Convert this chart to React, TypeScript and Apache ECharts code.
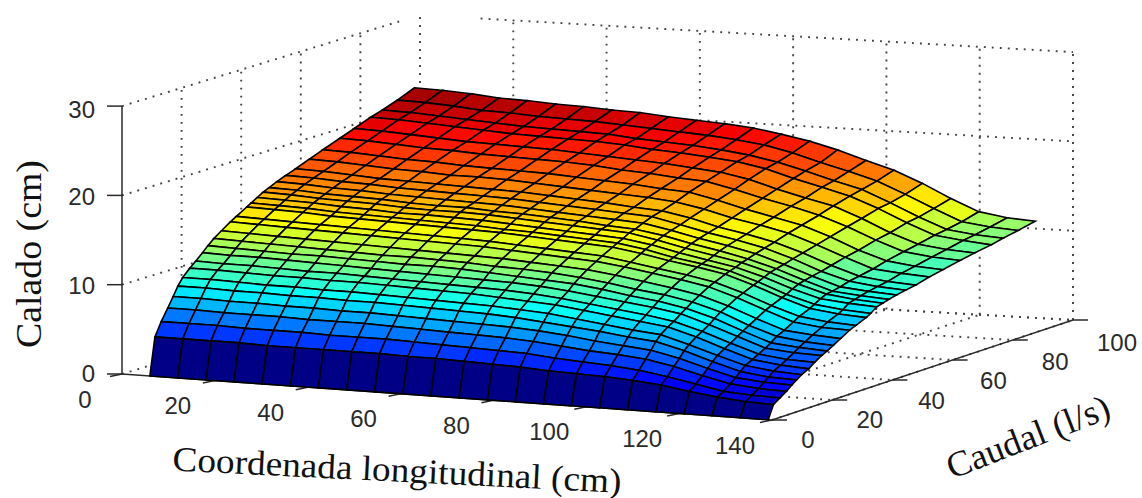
import React, { useEffect, useRef } from "react";
import * as echarts from "echarts";

const W = 1142;
const H = 498;

const xs = [6, 12, 18.1, 24.1, 30.2, 36.3, 42.3, 48.4, 54.4, 60.5, 66.5, 72.6, 78.7, 84.7, 90.8, 96.8, 102.9, 108.9, 115, 121.1, 127.1, 133.2, 139.2];
const qs = [0, 1.7, 3.8, 6, 7.8, 9.4, 11, 13.4, 15.4, 17.7, 19.5, 21.5, 24, 27, 29, 32.5, 34, 36, 38, 40, 42.6, 45.6, 48.9, 53.5, 58, 63.7, 68.5, 74, 78, 83, 88.7];
const depth = [
  [0, 0, 0, 0, 0, 0, 0, 0, 0, 0, 0, 0, 0, 0, 0, 0, 0, 0, 0, 0, 0, 0, 0],
  [4.2, 4.2, 4.2, 4.2, 4.1, 4.1, 4.1, 4.1, 4.1, 4.0, 4.0, 3.9, 3.8, 3.7, 3.5, 3.4, 3.3, 3.1, 2.8, 2.3, 1.9, 1.6, 1.5],
  [5.7, 5.7, 5.7, 5.6, 5.6, 5.6, 5.5, 5.5, 5.5, 5.4, 5.3, 5.2, 5.1, 5.0, 4.7, 4.5, 4.3, 4.0, 3.5, 2.9, 2.3, 2.1, 2.0],
  [7.0, 7.0, 6.9, 6.9, 6.9, 6.8, 6.8, 6.8, 6.7, 6.6, 6.5, 6.4, 6.3, 6.1, 5.8, 5.5, 5.3, 5.0, 4.4, 3.6, 2.9, 2.6, 2.5],
  [8.1, 8.1, 8.0, 8.0, 7.9, 7.9, 7.8, 7.8, 7.7, 7.6, 7.5, 7.4, 7.3, 7.1, 6.8, 6.4, 6.1, 5.8, 5.1, 4.2, 3.4, 3.1, 3.0],
  [9.1, 9.1, 9.0, 9.0, 8.9, 8.9, 8.8, 8.8, 8.7, 8.6, 8.5, 8.4, 8.2, 7.9, 7.6, 7.3, 6.9, 6.6, 5.8, 4.8, 3.9, 3.5, 3.4],
  [9.9, 9.9, 9.8, 9.7, 9.7, 9.6, 9.6, 9.5, 9.4, 9.3, 9.2, 9.1, 8.9, 8.7, 8.3, 7.9, 7.5, 7.2, 6.3, 5.3, 4.4, 4.0, 3.8],
  [10.7, 10.7, 10.6, 10.5, 10.5, 10.4, 10.4, 10.3, 10.2, 10.1, 10.0, 9.8, 9.6, 9.4, 9.0, 8.6, 8.2, 7.8, 6.9, 5.8, 4.8, 4.4, 4.2],
  [11.3, 11.2, 11.2, 11.1, 11.0, 11.0, 10.9, 10.8, 10.7, 10.6, 10.5, 10.4, 10.2, 9.9, 9.5, 9.1, 8.7, 8.2, 7.3, 6.2, 5.2, 4.8, 4.7],
  [12.0, 11.9, 11.9, 11.8, 11.7, 11.6, 11.5, 11.4, 11.3, 11.2, 11.1, 11.0, 10.8, 10.5, 10.1, 9.7, 9.3, 8.8, 7.8, 6.7, 5.6, 5.3, 5.2],
  [12.6, 12.5, 12.4, 12.3, 12.3, 12.2, 12.1, 12.0, 12.0, 11.9, 11.7, 11.5, 11.3, 11.1, 10.7, 10.2, 9.8, 9.2, 8.3, 7.1, 6.0, 5.7, 5.5],
  [13.2, 13.1, 13.0, 12.9, 12.8, 12.7, 12.6, 12.6, 12.5, 12.4, 12.2, 12.1, 11.9, 11.6, 11.2, 10.7, 10.3, 9.7, 8.8, 7.5, 6.5, 6.1, 5.9],
  [13.8, 13.7, 13.6, 13.5, 13.4, 13.3, 13.2, 13.1, 13.0, 12.9, 12.8, 12.6, 12.4, 12.2, 11.8, 11.3, 10.8, 10.2, 9.2, 8.0, 6.9, 6.6, 6.4],
  [14.5, 14.4, 14.3, 14.2, 14.1, 14.0, 13.9, 13.8, 13.7, 13.6, 13.4, 13.2, 13.0, 12.8, 12.4, 11.9, 11.4, 10.8, 9.8, 8.6, 7.5, 7.1, 7.0],
  [14.9, 14.8, 14.7, 14.6, 14.5, 14.4, 14.3, 14.2, 14.1, 14.0, 13.8, 13.6, 13.4, 13.2, 12.7, 12.2, 11.7, 11.1, 10.1, 8.9, 7.9, 7.5, 7.3],
  [15.6, 15.5, 15.4, 15.2, 15.1, 15.0, 14.9, 14.8, 14.7, 14.6, 14.4, 14.2, 14.0, 13.8, 13.3, 12.7, 12.2, 11.6, 10.6, 9.4, 8.4, 8.0, 7.8],
  [15.9, 15.8, 15.7, 15.5, 15.4, 15.3, 15.2, 15.1, 15.0, 14.8, 14.7, 14.5, 14.3, 14.1, 13.6, 12.9, 12.4, 11.8, 10.8, 9.6, 8.7, 8.3, 8.1],
  [16.3, 16.2, 16.1, 15.9, 15.8, 15.6, 15.6, 15.5, 15.4, 15.2, 15.0, 14.8, 14.6, 14.4, 13.9, 13.2, 12.6, 12.0, 11.1, 10.0, 9.1, 8.8, 8.6],
  [16.7, 16.6, 16.4, 16.3, 16.2, 16.0, 15.9, 15.9, 15.8, 15.6, 15.4, 15.2, 15.0, 14.8, 14.2, 13.5, 12.9, 12.3, 11.4, 10.3, 9.4, 9.0, 8.8],
  [17.0, 16.9, 16.7, 16.6, 16.5, 16.3, 16.2, 16.2, 16.0, 15.9, 15.7, 15.5, 15.2, 15.0, 14.5, 13.8, 13.2, 12.5, 11.6, 10.5, 9.5, 9.2, 9.0],
  [17.4, 17.3, 17.1, 17.0, 16.8, 16.7, 16.6, 16.5, 16.4, 16.2, 16.0, 15.8, 15.6, 15.4, 14.8, 14.1, 13.5, 12.8, 11.8, 10.7, 9.7, 9.4, 9.2],
  [17.8, 17.7, 17.5, 17.4, 17.2, 17.1, 17.0, 16.9, 16.8, 16.6, 16.4, 16.2, 16.0, 15.8, 15.1, 14.4, 13.8, 13.1, 12.1, 10.9, 10.0, 9.6, 9.4],
  [18.2, 18.1, 17.9, 17.7, 17.6, 17.5, 17.4, 17.3, 17.2, 17.0, 16.8, 16.6, 16.3, 16.1, 15.5, 14.7, 14.1, 13.4, 12.4, 11.2, 10.2, 9.8, 9.6],
  [18.8, 18.7, 18.5, 18.3, 18.2, 18.0, 18.0, 17.9, 17.7, 17.5, 17.3, 17.1, 16.9, 16.6, 16.0, 15.2, 14.6, 13.9, 12.8, 11.6, 10.5, 10.2, 10.0],
  [19.4, 19.3, 19.1, 18.9, 18.8, 18.6, 18.5, 18.4, 18.3, 18.1, 17.9, 17.7, 17.4, 17.2, 16.5, 15.7, 15.0, 14.3, 13.2, 11.9, 10.9, 10.5, 10.3],
  [20.1, 20.0, 19.8, 19.6, 19.5, 19.3, 19.2, 19.1, 19.0, 18.8, 18.5, 18.3, 18.0, 17.8, 17.1, 16.3, 15.6, 14.8, 13.7, 12.4, 11.3, 10.9, 10.7],
  [20.7, 20.6, 20.4, 20.2, 20.0, 19.9, 19.8, 19.7, 19.5, 19.3, 19.1, 18.9, 18.6, 18.3, 17.7, 16.8, 16.0, 15.3, 14.1, 12.7, 11.6, 11.2, 11.0],
  [21.4, 21.3, 21.1, 20.9, 20.7, 20.5, 20.4, 20.3, 20.2, 20.0, 19.7, 19.5, 19.2, 18.9, 18.3, 17.4, 16.6, 15.8, 14.6, 13.2, 12.0, 11.6, 11.3],
  [21.8, 21.7, 21.5, 21.3, 21.1, 20.9, 20.8, 20.7, 20.6, 20.3, 20.1, 19.9, 19.6, 19.2, 18.6, 17.8, 16.9, 16.1, 14.8, 13.4, 12.2, 11.8, 11.6],
  [22.4, 22.3, 22.1, 21.8, 21.7, 21.5, 21.4, 21.3, 21.1, 20.9, 20.7, 20.5, 20.2, 19.8, 19.1, 18.2, 17.4, 16.5, 15.2, 13.8, 12.5, 12.1, 11.9],
  [23.2, 23.1, 22.9, 22.6, 22.5, 22.3, 22.2, 22.0, 21.9, 21.6, 21.4, 21.2, 20.9, 20.4, 19.8, 19.0, 18.0, 17.1, 15.8, 14.3, 13.0, 12.5, 12.3],
];

const xTicks = [0, 20, 40, 60, 80, 100, 120, 140];
const qTicks = [0, 20, 40, 60, 80, 100];
const zTicks = [0, 10, 20, 30];

const X_MAX = 140;
const Q_MAX = 100;
const Z_MAX = 30;
const C_MAX = 23.2;

// projection of (x, q, z) to the plot's data space
function project(x: number, q: number, z: number): [number, number] {
  const u = x / X_MAX;
  const v = q / Q_MAX;
  return [
    (1 - v) * (122 + 650 * u) + v * (420 + 653 * u),
    (1 - v) * (374 + 46 * u) + v * (283 + 37 * u) - z * 8.93,
  ];
}

function jet(z: number): string {
  const level = Math.min(63, Math.floor((z / C_MAX) * 64));
  const t = (level + 0.5) / 64;
  const c = (d: number) => Math.round(255 * Math.max(0, Math.min(1, 1.5 - Math.abs(4 * t - d))));
  return `rgb(${c(3)},${c(2)},${c(1)})`;
}

type Seg = { a: number[]; b: number[]; dotted: boolean };

function buildGrid(): Seg[] {
  const s: Seg[] = [];
  const add = (a: number[], b: number[]) => s.push({ a, b, dotted: true });
  for (const z of zTicks) {
    // the top edges break near the far corner, as in the picture
    add([0, 0, z], [0, z === 30 ? 93 : Q_MAX, z]);
    add([z === 30 ? 13 : 0, Q_MAX, z], [X_MAX, Q_MAX, z]);
  }
  for (const q of qTicks.slice(1)) {
    add([0, q, 0], [0, q, Z_MAX]);
    add([0, q, 0], [X_MAX, q, 0]);
  }
  for (const x of xTicks.slice(1)) {
    add([x, Q_MAX, 0], [x, Q_MAX, Z_MAX]);
    add([x, 0, 0], [x, Q_MAX, 0]);
  }
  return s;
}

function buildAxes(): Seg[] {
  const s: Seg[] = [];
  const add = (a: number[], b: number[]) => s.push({ a, b, dotted: false });
  add([0, 0, 0], [0, 0, Z_MAX]);
  add([0, 0, 0], [X_MAX, 0, 0]);
  add([X_MAX, 0, 0], [X_MAX, Q_MAX, 0]);
  return s;
}

export default function App() {
  const ref = useRef<HTMLDivElement>(null);
  useEffect(() => {
    const chart = echarts.init(ref.current!, undefined, { renderer: "svg" });

    const segs = [...buildGrid(), ...buildAxes()];
    const cells: number[][] = [];
    for (let j = qs.length - 2; j >= 0; j--) {
      for (let i = 0; i < xs.length - 1; i++) cells.push([i, j]);
    }
    const tickMarks: { p: number[]; dx: number; dy: number }[] = [
      ...xTicks.map((t) => ({ p: [t, 0, 0], dx: -12, dy: 2.5 })),
      ...qTicks.map((t) => ({ p: [X_MAX, t, 0], dx: 15, dy: 0 })),
      ...zTicks.map((t) => ({ p: [0, 0, t], dx: -15, dy: 0 })),
    ];
    const labels: { p: number[]; dx: number; dy: number; text: string; align: string }[] = [
      ...xTicks.map((t) => ({ p: [t, 0, 0], dx: -37, dy: 25, text: String(t), align: "center" })),
      ...qTicks.map((t, k) => ({ p: [X_MAX, t, 0], dx: 36 + k * 1.6, dy: 19 + k * 0.6, text: String(t), align: "center" })),
      ...zTicks.map((t, k) => ({ p: [0, 0, t], dx: -27, dy: [-1, 1, 1, 3][k], text: String(t), align: "right" })),
    ];

    const lineFont = '24px "Liberation Sans", Arial, sans-serif';
    const titleFont = '36px "Liberation Serif", "Times New Roman", serif';

    chart.setOption({
      animation: false,
      backgroundColor: "#ffffff",
      grid: { left: 0, right: 0, top: 0, bottom: 0 },
      xAxis: { type: "value", min: 0, max: W, show: false },
      yAxis: { type: "value", min: 0, max: H, inverse: true, show: false },
      series: [
        {
          type: "custom",
          coordinateSystem: "cartesian2d",
          silent: true,
          clip: false,
          progressive: 0,
          data: segs.map((_, k) => k),
          renderItem: (params: any, api: any) => {
            const s = segs[params.dataIndex];
            const [ax, ay] = project(s.a[0], s.a[1], s.a[2]);
            const [bx, by] = project(s.b[0], s.b[1], s.b[2]);
            const a = api.coord([ax, ay]);
            const b = api.coord([bx, by]);
            return {
              type: "line",
              shape: { x1: a[0], y1: a[1], x2: b[0], y2: b[1] },
              style: s.dotted
                ? { stroke: "#444444", lineWidth: 1.9, lineDash: [1.9, 6.1], fill: null }
                : { stroke: "#2a2a2a", lineWidth: 1.5, fill: null },
            };
          },
        },
        {
          type: "custom",
          coordinateSystem: "cartesian2d",
          silent: true,
          clip: false,
          progressive: 0,
          data: tickMarks.map((_, k) => k),
          renderItem: (params: any, api: any) => {
            const t = tickMarks[params.dataIndex];
            const [ax, ay] = project(t.p[0], t.p[1], t.p[2]);
            const a = api.coord([ax, ay]);
            const b = api.coord([ax + t.dx, ay + t.dy]);
            return {
              type: "line",
              shape: { x1: a[0], y1: a[1], x2: b[0], y2: b[1] },
              style: { stroke: "#2a2a2a", lineWidth: 1.5, fill: null },
            };
          },
        },
        {
          type: "custom",
          coordinateSystem: "cartesian2d",
          silent: true,
          clip: false,
          progressive: 0,
          data: cells,
          renderItem: (params: any, api: any) => {
            const [i, j] = cells[params.dataIndex];
            const corners = [
              [i, j],
              [i + 1, j],
              [i + 1, j + 1],
              [i, j + 1],
            ];
            const points = corners.map(([c, r]) => {
              const [px, py] = project(xs[c], qs[r], depth[r][c]);
              return api.coord([px, py]);
            });
            return {
              type: "polygon",
              shape: { points },
              style: { fill: jet(depth[j][i]), stroke: "#000000", lineWidth: 1.6 },
            };
          },
        },
        {
          type: "custom",
          coordinateSystem: "cartesian2d",
          silent: true,
          clip: false,
          progressive: 0,
          data: labels.map((_, k) => k),
          renderItem: (params: any, api: any) => {
            const l = labels[params.dataIndex];
            const [ax, ay] = project(l.p[0], l.p[1], l.p[2]);
            const a = api.coord([ax + l.dx, ay + l.dy]);
            return {
              type: "text",
              x: a[0],
              y: a[1],
              style: {
                text: l.text,
                font: lineFont,
                fill: "#2a2a2a",
                textAlign: l.align,
                textVerticalAlign: "middle",
              },
            };
          },
        },
      ],
      graphic: [
        {
          type: "text",
          x: 29,
          y: 254,
          rotation: Math.PI / 2,
          scaleX: 1.05,
          silent: true,
          style: {
            text: "Calado (cm)",
            font: titleFont,
            fill: "#111111",
            textAlign: "center",
            textVerticalAlign: "middle",
          },
        },
        {
          type: "text",
          x: 397,
          y: 470,
          rotation: -0.05,
          scaleX: 1.065,
          silent: true,
          style: {
            text: "Coordenada longitudinal (cm)",
            font: '35px "Liberation Serif", "Times New Roman", serif',
            fill: "#111111",
            textAlign: "center",
            textVerticalAlign: "middle",
          },
        },
        {
          type: "text",
          x: 1028,
          y: 437,
          rotation: 0.37,
          scaleX: 1.02,
          silent: true,
          style: {
            text: "Caudal (l/s)",
            font: titleFont,
            fill: "#111111",
            textAlign: "center",
            textVerticalAlign: "middle",
          },
        },
      ],
    });
    return () => chart.dispose();
  }, []);

  return <div ref={ref} style={{ position: "absolute", left: 0, top: 0, width: W, height: H }} />;
}
